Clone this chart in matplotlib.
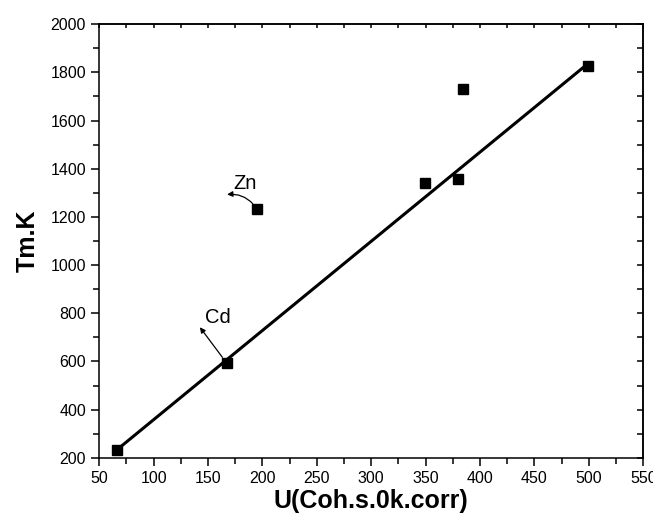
import numpy as np
import matplotlib
matplotlib.use('Agg')
import matplotlib.pyplot as plt
from matplotlib.ticker import MultipleLocator

plt.rcParams['font.family'] = ['Liberation Sans', 'DejaVu Sans']

# points
u_coh = [66, 167, 195, 349.5, 380, 384, 499]
tm_k = [232, 594, 1232, 1339, 1359, 1730, 1827]
# points used for the straight line (Zn and the 384 point left out)
fit_idx = [0, 1, 3, 4, 6]

# labels: (text, point index, text pos, arrow tip)
labels = [('Zn', 2, (173, 1300), (167.5, 1293)),
          ('Cd', 1, (147, 745), (142.5, 742))]

fig = plt.figure(figsize=(6.53, 5.25), dpi=100)
ax = fig.add_axes([0.152, 0.128, 0.833, 0.826])

x = np.array(u_coh)
y = np.array(tm_k)
k, b = np.polyfit(x[fit_idx], y[fit_idx], 1)
xl = np.array([x[fit_idx].min(), x[fit_idx].max()])
ax.plot(xl, k * xl + b, color='black', lw=2.2, zorder=2)
ax.plot(x, y, 's', color='black', ms=7, zorder=3)

for txt, i, tpos, tip in labels:
    ax.text(tpos[0], tpos[1], txt, fontsize=14.5, ha='left', va='bottom')
    rad = 0.3 if txt == 'Zn' else 0.0
    ax.annotate('', xy=tip, xytext=(u_coh[i], tm_k[i]),
                arrowprops=dict(arrowstyle='-|>', color='black', lw=0.9,
                                mutation_scale=8, shrinkA=5, shrinkB=0,
                                connectionstyle='arc3,rad=%s' % rad))

ax.set_xlim(50, 550)
ax.set_ylim(200, 2000)
ax.xaxis.set_major_locator(MultipleLocator(50))
ax.xaxis.set_minor_locator(MultipleLocator(25))
ax.yaxis.set_major_locator(MultipleLocator(200))
ax.yaxis.set_minor_locator(MultipleLocator(100))

ax.tick_params(which='both', direction='out', top=False, right=False,
               labelsize=11.5, width=1.1)
ax.tick_params(which='major', length=6)
ax.tick_params(which='minor', length=4)

# inward ticks on top and right, no labels
tx = ax.secondary_xaxis('top')
tx.xaxis.set_major_locator(MultipleLocator(25))
tx.tick_params(direction='in', length=3, width=1.1, labeltop=False)
ty = ax.secondary_yaxis('right')
ty.yaxis.set_major_locator(MultipleLocator(100))
ty.tick_params(direction='in', length=4, width=1.1, labelright=False)
for s in list(tx.spines.values()) + list(ty.spines.values()):
    s.set_linewidth(1.1)

for s in ax.spines.values():
    s.set_linewidth(1.1)

ax.set_xlabel('U(Coh.s.0k.corr)', fontsize=18, fontweight='bold', labelpad=2)
ax.set_ylabel('Tm.K', fontsize=18, fontweight='bold', labelpad=8)

fig.savefig('out.png', dpi=100)
